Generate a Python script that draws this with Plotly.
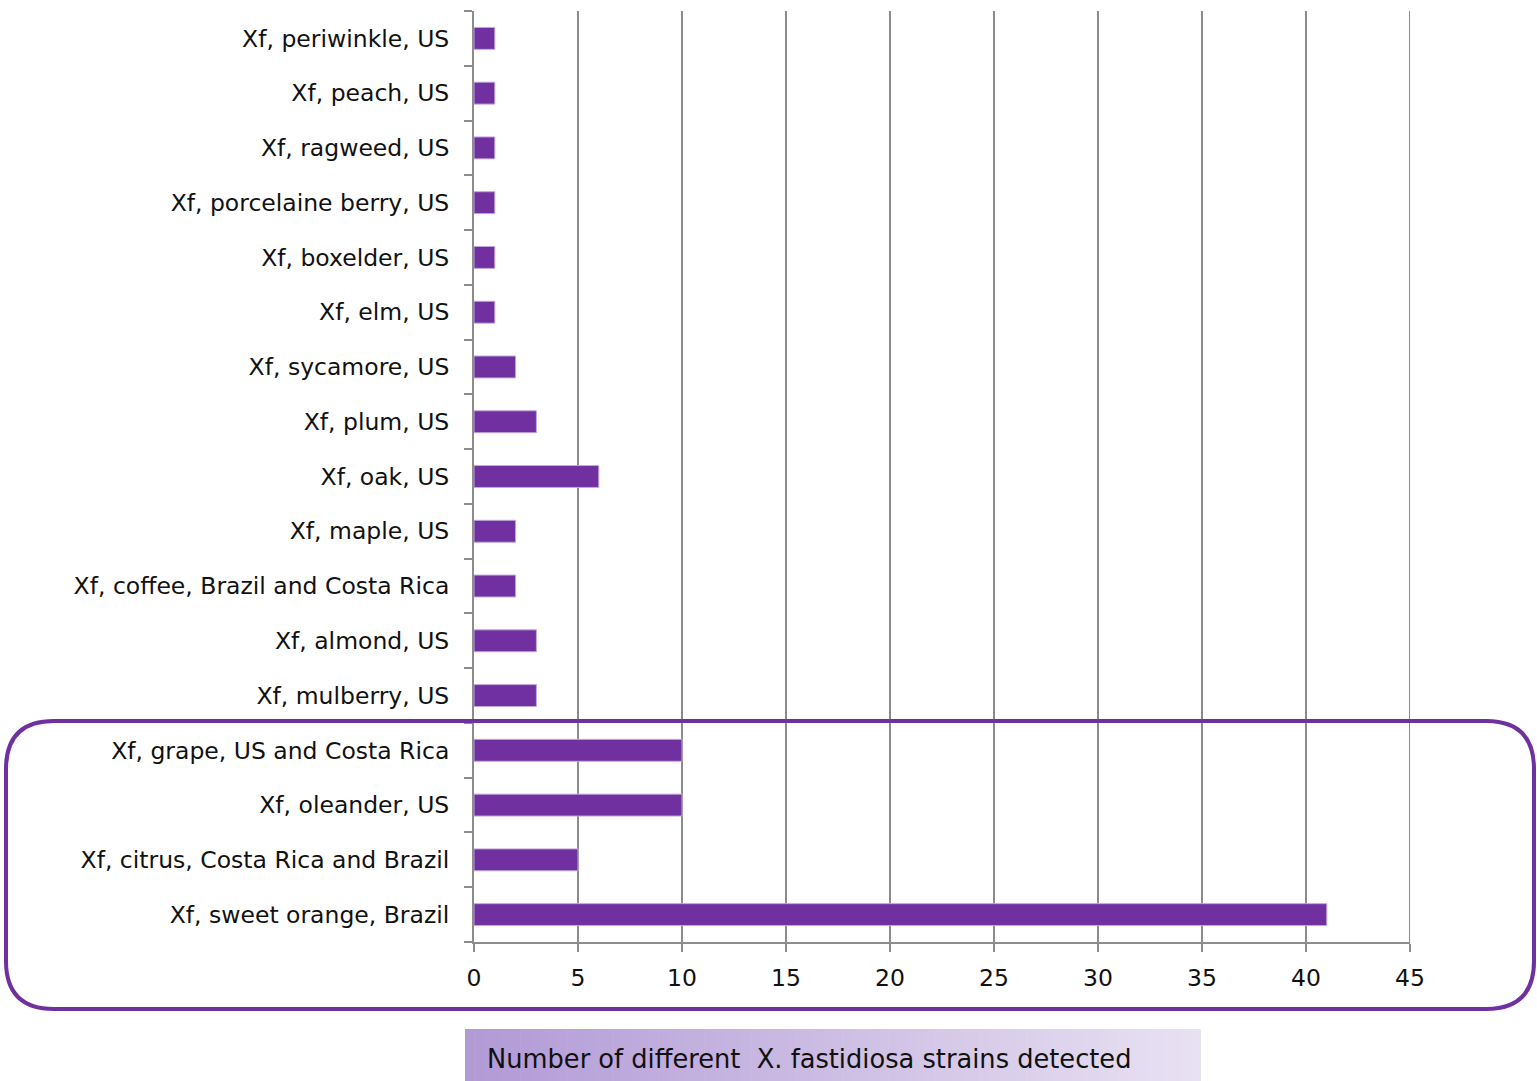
import plotly.graph_objects as go

# Host/strain groups, listed bottom to top
categories = [
    "Xf, sweet orange, Brazil",
    "Xf, citrus, Costa Rica and Brazil",
    "Xf, oleander, US",
    "Xf, grape, US and Costa Rica",
    "Xf, mulberry, US",
    "Xf, almond, US",
    "Xf, coffee, Brazil and Costa Rica",
    "Xf, maple, US",
    "Xf, oak, US",
    "Xf, plum, US",
    "Xf, sycamore, US",
    "Xf, elm, US",
    "Xf, boxelder, US",
    "Xf, porcelaine berry, US",
    "Xf, ragweed, US",
    "Xf, peach, US",
    "Xf, periwinkle, US",
]
strain_counts = [41, 5, 10, 10, 3, 3, 2, 2, 6, 3, 2, 1, 1, 1, 1, 1, 1]
x_ticks = [0, 5, 10, 15, 20, 25, 30, 35, 40, 45]
axis_title = "Number of different\u00a0\u00a0X. fastidiosa strains detected"

W, H = 1537, 1081
L, R, T, B = 474, 1410, 11, 942  # plot area in pixels
PURPLE = "#7030A0"
GRID = "#8c8c8c"
FONT = "DejaVu Sans, sans-serif"


def px(x):
    return (x - L) / (R - L)


def py(y):
    return (B - y) / (B - T)


fig = go.Figure(
    go.Bar(
        x=strain_counts,
        y=categories,
        orientation="h",
        marker=dict(color=PURPLE, line=dict(color="#c2a8dc", width=1)),
        width=0.4,
    )
)

fig.update_layout(
    width=W,
    height=H,
    margin=dict(l=L, r=W - R, t=T, b=H - B),
    paper_bgcolor="white",
    plot_bgcolor="white",
    showlegend=False,
    font=dict(family=FONT, size=23.5, color="#111111"),
    xaxis=dict(
        range=[0, 45],
        tickvals=x_ticks,
        showgrid=True,
        gridcolor=GRID,
        gridwidth=2,
        zeroline=False,
        showline=True,
        linecolor=GRID,
        linewidth=2,
        ticks="outside",
        ticklen=8,
        tickwidth=2,
        tickcolor=GRID,
        ticklabelstandoff=6,
        fixedrange=True,
    ),
    yaxis=dict(
        categoryorder="array",
        categoryarray=categories,
        range=[-0.5, len(categories) - 0.5],
        showgrid=False,
        zeroline=False,
        showline=True,
        linecolor=GRID,
        linewidth=2,
        ticks="outside",
        tickson="boundaries",
        ticklen=8,
        tickwidth=2,
        tickcolor=GRID,
        ticklabelstandoff=18,
        fixedrange=True,
    ),
)

# Right gridline at 45
fig.add_shape(type="line", xref="x", yref="paper", x0=45, x1=45, y0=0, y1=1,
              line=dict(color=GRID, width=2), layer="below")

# Rounded frame highlighting the four bottom groups
x0, x1, y0, y1, r = 6, 1534, 721, 1009, 48
rx = r / (R - L)
ry = r / (B - T)
X0, X1, Y0, Y1 = px(x0), px(x1), py(y1), py(y0)
path = (
    f"M {X0 + rx},{Y1} L {X1 - rx},{Y1} Q {X1},{Y1} {X1},{Y1 - ry} "
    f"L {X1},{Y0 + ry} Q {X1},{Y0} {X1 - rx},{Y0} "
    f"L {X0 + rx},{Y0} Q {X0},{Y0} {X0},{Y0 + ry} "
    f"L {X0},{Y1 - ry} Q {X0},{Y1} {X0 + rx},{Y1} Z"
)
fig.add_shape(type="path", xref="paper", yref="paper", path=path,
              line=dict(color=PURPLE, width=4), fillcolor="rgba(0,0,0,0)")

# Gradient-filled title box below the chart
bx0, bx1, by0, by1 = 465, 1201, 1029, 1081
c0 = (178, 154, 214)
c1 = (232, 225, 242)
n = 80
for i in range(n):
    t = i / (n - 1)
    col = tuple(round(c0[k] + (c1[k] - c0[k]) * t) for k in range(3))
    xa = bx0 + (bx1 - bx0) * i / n
    xb = bx0 + (bx1 - bx0) * (i + 1) / n + 0.6
    fig.add_shape(type="rect", xref="paper", yref="paper",
                  x0=px(xa), x1=px(min(xb, bx1)), y0=py(by1), y1=py(by0),
                  line=dict(width=0), fillcolor=f"rgb{col}", layer="below")

fig.add_annotation(text=axis_title, xref="paper", yref="paper",
                   x=px(485), y=py(1059), xanchor="left", yanchor="middle",
                   showarrow=False, font=dict(family=FONT, size=25.7, color="#111111"))

fig.write_html("out.html")
